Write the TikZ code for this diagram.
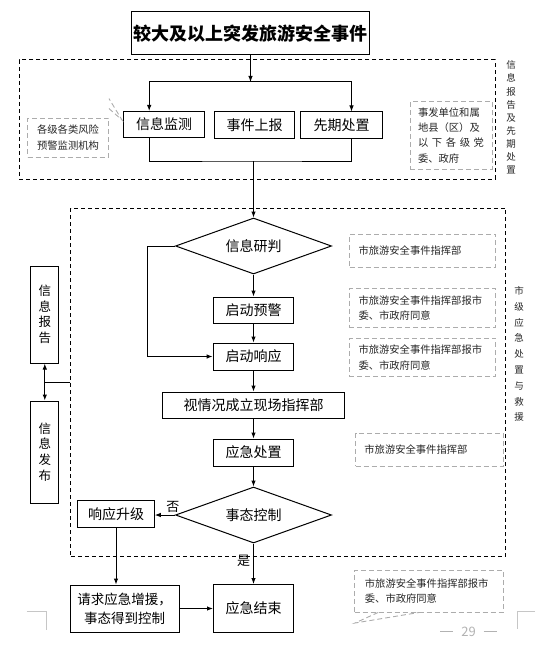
\documentclass[tikz,border=0pt]{standalone}
\usepackage{fontspec}
\setmainfont{Noto Sans CJK SC}
\usetikzlibrary{shapes.geometric,arrows.meta,calc}

\begin{document}
\begin{tikzpicture}[x=1pt,y=-1pt,line width=1pt,>={Latex[length=6pt,width=4.5pt]}]
    % `stepbox' is used for the black boxes of the flow.
    % `judge' is used for the two decision diamonds.
    % `note' is used for the grey dashed side notes.
    % `zone' is used for the two dashed frames.
    \tikzstyle{stepbox} = [draw,inner sep=0pt,font=\fontsize{14}{16}\selectfont]
    \tikzstyle{judge} = [draw,diamond,aspect=2.8,inner sep=0pt,minimum width=156pt,minimum height=56pt,font=\fontsize{14}{16}\selectfont]
    \tikzstyle{note} = [draw=gray!65,line width=0.9pt,dash pattern=on 5pt off 3pt,inner sep=0pt,text=black!85,font=\fontsize{10.3}{15.3}\selectfont]
    \tikzstyle{tail} = [draw=gray!65,line width=0.9pt,dash pattern=on 5pt off 3pt]
    \tikzstyle{zone} = [draw,dash pattern=on 4pt off 3pt,inner sep=0pt]
    \tikzstyle{vlabel} = [align=center,inner sep=0pt,text=black!85]
    \tikzstyle{pagemark} = [draw=gray!45,line width=0.8pt]
    %
    \useasboundingbox (0,0) rectangle (552,658);
    % Frames.
    \node[zone,minimum width=476pt,minimum height=119pt] (zone1) at (257.4,119.5) {};
    \node[zone,minimum width=435pt,minimum height=348pt] (zone2) at (288.4,382) {};
    \node[vlabel,font=\fontsize{9.5}{13.1}\selectfont] (lab1) at (511,117.5)
      {信\\息\\报\\告\\及\\先\\期\\处\\置};
    \node[vlabel,font=\fontsize{9.5}{15.8}\selectfont] (lab2) at (519,354)
      {市\\级\\应\\急\\处\\置\\与\\救\\援};
    %
    \node[stepbox,minimum width=238pt,minimum height=43pt,font=\fontsize{18}{20}\selectfont\bfseries] (title) at (250.5,33.5) {较大及以上突发旅游安全事件};
    \node[stepbox,minimum width=80.6pt,minimum height=26pt] (jc) at (164.2,124.5) {信息监测};
    \node[stepbox,minimum width=80.4pt,minimum height=26pt] (sb) at (254.6,125) {事件上报};
    \node[stepbox,minimum width=81.4pt,minimum height=26pt] (xq) at (341.5,125) {先期处置};
    \node[note,minimum width=81pt,minimum height=39pt,align=center] (g1) at (68,137.5)
      {各级各类风险\\预警监测机构};
    \node[note,minimum width=82pt,minimum height=67.5pt,align=left,text width=66pt] (g2) at (451,135.3)
      {事发单位和属\\地县（区）及\\\makebox[66pt][l]{以\hfill 下\hfill 各\hfill 级\hfill 党}\\委、政府};
    %
    \node[judge] (yp) at (253.5,246) {信息研判};
    \node[stepbox,minimum width=80.7pt,minimum height=26pt] (qd) at (253.5,310) {启动预警};
    \node[stepbox,minimum width=80.7pt,minimum height=27pt] (xy) at (253.5,356.5) {启动响应};
    \node[stepbox,minimum width=182pt,minimum height=26pt] (xc) at (253.5,405) {视情况成立现场指挥部};
    \node[stepbox,minimum width=80pt,minimum height=27pt] (cz) at (253.5,452.5) {应急处置};
    \node[judge] (kz) at (253.5,515) {事态控制};
    \node[stepbox,minimum width=76.5pt,minimum height=27pt] (sj) at (116,514) {响应升级};
    \node[stepbox,minimum width=109.4pt,minimum height=47pt,align=center,font=\fontsize{13.5}{19}\selectfont] (qq) at (124.7,608.5)
      {请求应急增援，\\事态得到控制};
    \node[stepbox,minimum width=80pt,minimum height=48pt] (js) at (253.5,608.5) {应急结束};
    %
    \node[stepbox,minimum width=28pt,minimum height=97pt,align=center,font=\fontsize{12.5}{15.6}\selectfont] (bg) at (44.8,314.5)
      {信\\息\\报\\告};
    \node[stepbox,minimum width=28pt,minimum height=102pt,align=center,font=\fontsize{12.5}{15.6}\selectfont] (fb) at (44.8,452)
      {信\\息\\发\\布};
    %
    \node[note,minimum width=146pt,minimum height=33pt,align=left,text width=128pt] (g3) at (422.5,250.6)
      {市旅游安全事件指挥部};
    \node[note,minimum width=146.4pt,minimum height=39pt,align=left,text width=128pt] (g4) at (422.5,307.8)
      {市旅游安全事件指挥部报市\\委、市政府同意};
    \node[note,minimum width=146.4pt,minimum height=38.4pt,align=left,text width=128pt] (g5) at (422.5,357.5)
      {市旅游安全事件指挥部报市\\委、市政府同意};
    \node[note,minimum width=147.6pt,minimum height=33pt,align=left,text width=130pt] (g6) at (429.4,449.5)
      {市旅游安全事件指挥部};
    \node[note,minimum width=148.6pt,minimum height=42pt,align=left,text width=128pt] (g7) at (428.9,591)
      {市旅游安全事件指挥部报市\\委、市政府同意};
    %
    \coordinate (split) at (250.5,82);
    \coordinate (merge) at (253.5,161);
    \coordinate (g1tip) at (122,120);
    \coordinate (g7tip) at (355,623);
    % Draw lines.
    \draw[->] (title.south) -- (split);
    \draw[->] (split) -| ([xshift=-15pt]jc.north);
    \draw[->] (split) -| ([xshift=10pt]xq.north);
    \draw ([xshift=-15pt]jc.south) |- (merge) -| ([xshift=10pt]xq.south);
    \draw[->] (merge) -- (yp.north);
    \draw[->] (yp) -- (qd);
    \draw[->] (yp.west) -- ++(-28,0) |- (xy.west);
    \draw[->] (qd) -- (xy);
    \draw[->] (xy) -- (xc);
    \draw[->] (xc) -- (cz);
    \draw[->] (cz) -- (kz);
    \draw[->] (kz.west) -- (kz.west -| sj.east)
      node[pos=0.1,above,inner sep=2pt,font=\fontsize{13}{15}\selectfont] {否};
    \draw[->] (kz) -- (js)
      node[pos=0.44,left,inner sep=3pt,font=\fontsize{13}{15}\selectfont] {是};
    \draw[->] (sj) -- (sj |- qq.north);
    \draw[->] (qq) -- (js);
    \draw[<->] (bg) -- (fb);
    \draw (zone2.west) -- (zone2.west -| bg.south);
    \draw[tail] ([yshift=9pt]g1.north east) -- (g1tip) -- ([yshift=19pt]g1.north east);
    \draw[tail] ([xshift=24pt]g7.south west) -- (g7tip) -- ([xshift=65pt]g7.south west);
    % Page marks.
    \draw[pagemark] (26.5,611) -- (46,611) -- (46,630);
    \draw[pagemark] (535,611) -- (517,611) -- (517,629);
    \node[text=gray!60,font=\fontsize{13}{15}\selectfont] (pageno) at (468.5,631.5)
      {\rule[4pt]{13pt}{0.7pt}\hspace{8pt}29\hspace{8pt}\rule[4pt]{13pt}{0.7pt}};
\end{tikzpicture}
\end{document}
